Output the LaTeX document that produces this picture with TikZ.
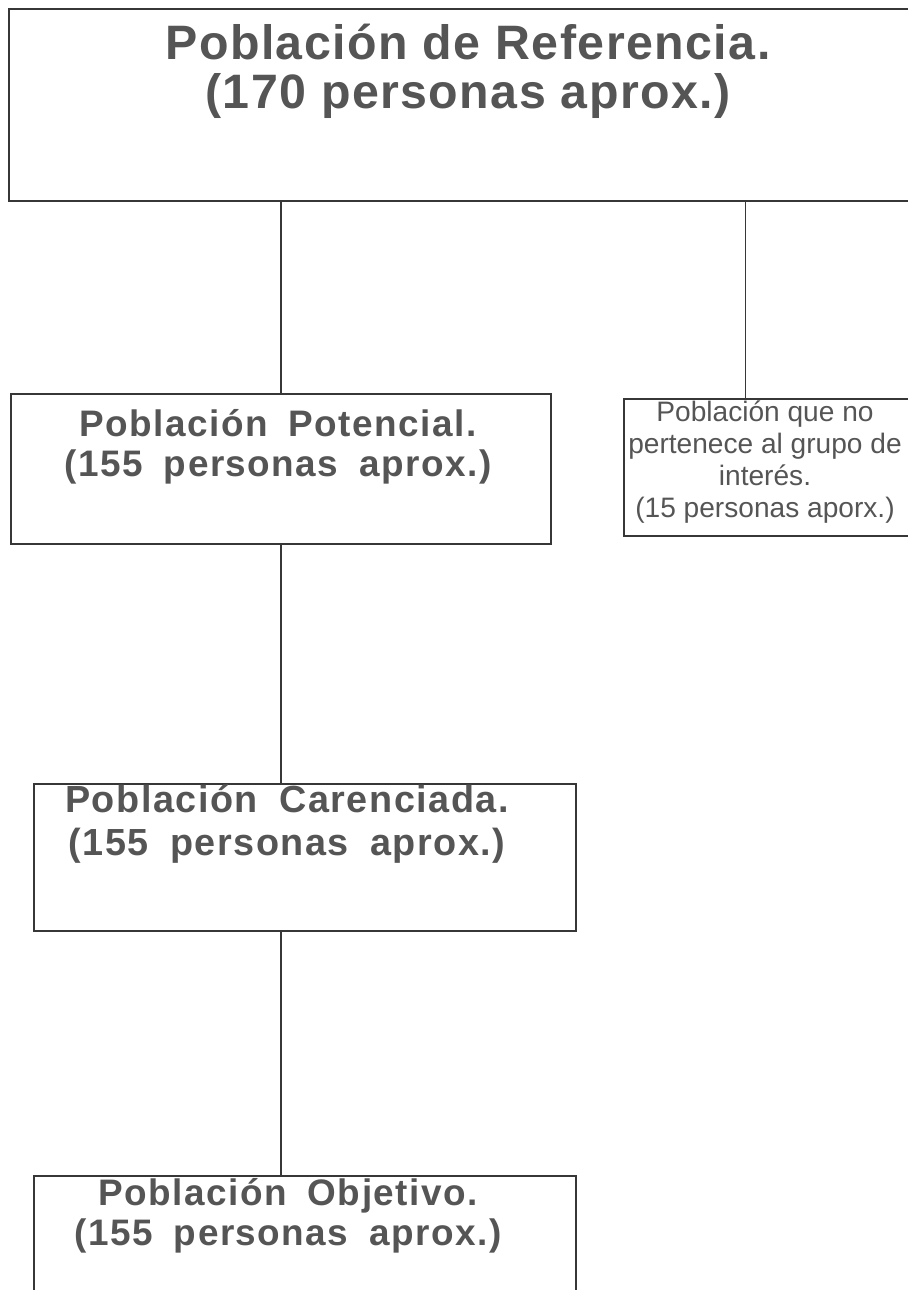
\documentclass[tikz,border=0pt]{standalone}
\usepackage{fontspec}
\setmainfont{Liberation Sans}
\newfontfamily\titulofont[LetterSpace=3]{Liberation Sans Bold}
\newfontfamily\cajafont[LetterSpace=4,WordSpace=1.8]{Liberation Sans Bold}
\usepackage{tikz}
\usetikzlibrary{positioning,calc}
\definecolor{tinta}{RGB}{85,85,85}
\definecolor{borde}{RGB}{55,55,55}
\tikzstyle{caja} = [rectangle, draw=borde, line width=1pt, inner sep=0pt, anchor=north west]
\tikzstyle{texto} = [align=center, inner sep=0pt, anchor=base, text=tinta]
\tikzstyle{linea} = [draw=borde, line width=0.8pt]

\begin{document}
\begin{tikzpicture}[x=0.02cm,y=-0.02cm]
\useasboundingbox (0,0) rectangle (908,1290);
\node[caja, minimum width=18.4cm, minimum height=3.84cm] (ref) at (8,8) {};
\node[caja, minimum width=10.8cm, minimum height=3cm] (pot) at (10,393) {};
\node[caja, minimum width=5.74cm, minimum height=2.74cm] (side) at (623,398) {};
\node[caja, minimum width=10.84cm, minimum height=2.94cm] (car) at (33,783) {};
\node[caja, minimum width=10.84cm, minimum height=3cm] (obj) at (33,1175) {};
\node[texto, font=\titulofont\fontsize{27.5}{28.3}\selectfont] (reftxt) at (468,109) {Población de Referencia.\\(170 personas aprox.)};
\node[texto, font=\cajafont\fontsize{21}{22.7}\selectfont] (pottxt) at (278,476) {Población Potencial.\\(155 personas aprox.)};
\node[texto, font=\fontsize{16}{18.1}\selectfont] (sidetxt) at (765,517) {Población que no\\pertenece al grupo de\\interés.\\(15 personas aporx.)};
\node[texto, font=\cajafont\fontsize{21.5}{24.4}\selectfont] (cartxt) at (287,855) {Población Carenciada.\\(155 personas aprox.)};
\node[texto, font=\cajafont\fontsize{21}{22.7}\selectfont] (objtxt) at (288,1245) {Población Objetivo.\\(155 personas aprox.)};
\coordinate (sidein) at ($(side.north west)!0.425!(side.north east)$);
\draw[linea] (ref.south -| pot.north) -- (pot.north);
\draw[linea] (ref.south -| sidein) -- (sidein);
\draw[linea] (pot.south) -- (pot.south |- car.north);
\draw[linea] (pot.south |- car.south) -- (pot.south |- obj.north);
\end{tikzpicture}
\end{document}
